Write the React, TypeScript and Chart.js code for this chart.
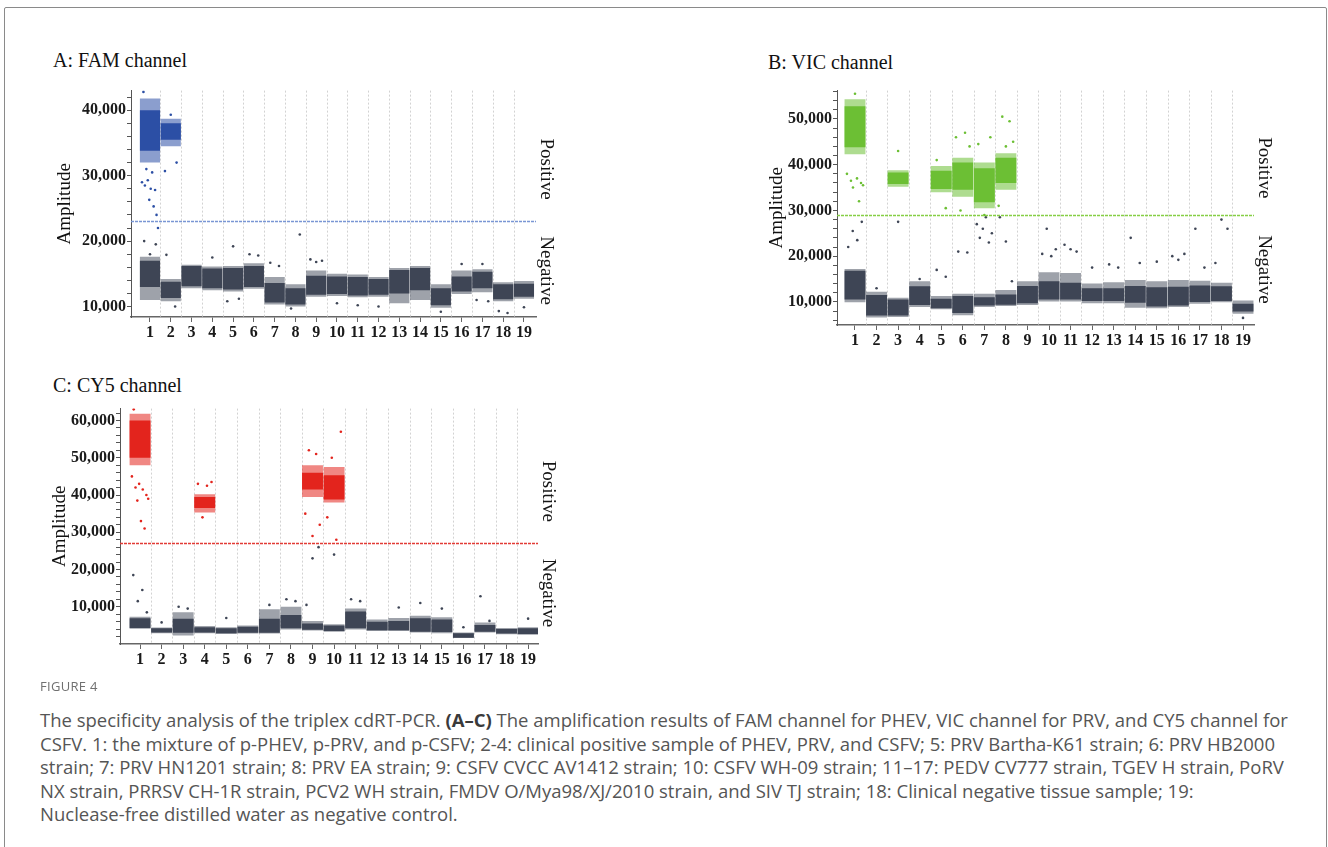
import React, { useEffect, useRef } from "react";
import { Chart, registerables } from "chart.js";

Chart.register(...registerables);

type Range = [number, number] | null;
const N = null;

// ---------- shared categories ----------
const wells = [1, 2, 3, 4, 5, 6, 7, 8, 9, 10, 11, 12, 13, 14, 15, 16, 17, 18, 19];
const wellLabels = ["1", "2", "3", "4", "5", "6", "7", "8", "9", "10", "11", "12", "13", "14", "15", "16", "17", "18", "19"];

// ---------- A: FAM channel ----------
const famThreshold = 23000;
const famMajorTicks = [10000, 20000, 30000, 40000];
const famPosCore: Range[] = [[33800, 40000], [35500, 38000], N, N, N, N, N, N, N, N, N, N, N, N, N, N, N, N, N];
const famPosHalo: Range[] = [[32000, 41800], [34500, 38700], N, N, N, N, N, N, N, N, N, N, N, N, N, N, N, N, N];
const famPosOut: number[][] = [
  [29000, 42800, 28500, 31000, 29300, 26300, 28000, 30500, 25300, 27800, 24000, 22000],
  [30700, 39300, 32000], [], [], [], [], [], [], [], [], [], [], [], [], [], [], [], [], [],
];
const famNegCore: Range[] = [
  [13000, 17000], [11300, 13800], [13100, 16200], [12800, 15800], [12600, 15900], [13000, 16200],
  [10600, 13600], [10300, 12800], [11800, 14700], [11900, 14600], [11700, 14500], [11800, 14200],
  [12000, 15600], [12500, 15900], [10200, 12800], [12300, 14600], [12800, 15300], [11100, 13400], [11500, 13500],
];
const famNegHalo: Range[] = [
  [11000, 17600], [10800, 14200], [12800, 16400], [12500, 16100], [12300, 16200], [12700, 16600],
  [10300, 14500], [10000, 13400], [11500, 15500], [11600, 15000], [11400, 14900], [11500, 14500],
  [10500, 15900], [11000, 16200], [9800, 13400], [11900, 15500], [12200, 15700], [10800, 13700], [11200, 13900],
];
const famNegOut: number[][] = [
  [20000, 18000, 19500], [17900, 10000], [], [17500], [10800, 19200, 11200], [18000, 17800],
  [16700, 16200], [9700, 21000], [17200, 16800, 17000], [10500], [10200], [10000],
  [], [], [9200], [16500], [11000, 16500, 10800], [9300, 9000], [9900],
];

// ---------- B: VIC channel ----------
const vicThreshold = 29000;
const vicMajorTicks = [10000, 20000, 30000, 40000, 50000];
const vicPosCore: Range[] = [[43800, 52800], N, [35800, 38300], N, [34700, 38700], [34500, 40500], [31800, 39200], [36000, 41500], N, N, N, N, N, N, N, N, N, N, N];
const vicPosHalo: Range[] = [[42300, 54300], N, [35200, 38800], N, [34000, 39700], [33000, 41500], [30500, 40500], [34500, 42500], N, N, N, N, N, N, N, N, N, N, N];
const vicPosOut: number[][] = [
  [38000, 56500, 36500, 35000, 55500, 37000, 32000, 36000, 35500], [], [43000], [], [41000, 30500],
  [46000, 30000, 47000, 44000], [44500, 29000, 46000], [31000, 50500, 44000, 49500, 45000],
  [], [], [], [], [], [], [], [], [], [], [],
];
const vicNegCore: Range[] = [
  [10500, 16800], [7000, 11500], [7000, 10500], [9300, 13400], [8600, 10700], [7600, 11300],
  [9200, 11000], [9400, 11600], [9700, 13500], [10500, 14500], [10500, 14200], [10200, 13000],
  [10200, 13000], [9800, 13500], [9000, 13200], [9200, 13300], [10000, 13600], [10200, 13400], [7900, 9600],
];
const vicNegHalo: Range[] = [
  [9900, 17200], [6600, 12200], [6700, 10900], [8900, 14500], [8400, 11300], [7100, 11800],
  [8900, 11800], [9100, 12600], [9300, 14500], [10100, 16500], [10100, 16300], [9700, 14000],
  [9700, 14300], [8700, 14800], [8600, 14500], [8900, 14800], [9600, 14600], [9900, 14200], [7400, 10300],
];
const vicNegOut: number[][] = [
  [22000, 25500, 23500, 27500], [13000], [27500], [15000], [17000, 15500], [21000, 20800],
  [27000, 24000, 26000, 28500, 23000, 25000], [28500, 23200, 14500], [], [20500, 26000, 20000, 21500],
  [22500, 21500, 21000], [17500], [18200, 17500], [24000, 18500], [18800], [20000, 19200, 20500],
  [26000, 17500], [18500, 28000, 26000], [6500],
];

// ---------- C: CY5 channel ----------
const cy5Threshold = 27000;
const cy5MajorTicks = [10000, 20000, 30000, 40000, 50000, 60000];
const cy5PosCore: Range[] = [[50000, 60000], N, N, [36500, 39500], N, N, N, N, [41500, 46000], [38800, 45300], N, N, N, N, N, N, N, N, N];
const cy5PosHalo: Range[] = [[48000, 61800], N, N, [35300, 40200], N, N, N, N, [39500, 48000], [38000, 47500], N, N, N, N, N, N, N, N, N];
const cy5PosOut: number[][] = [
  [45000, 63000, 42000, 38500, 43000, 33000, 41500, 31000, 40000, 39000], [], [],
  [43000, 34000, 42500, 43500], [], [], [], [], [35000, 52000, 29000, 51000, 32000],
  [34000, 50000, 28000, 57000], [], [], [], [], [], [], [], [], [],
];
const cy5NegCore: Range[] = [
  [4300, 6900], [3100, 4200], [3000, 6800], [3100, 4500], [2900, 4200], [3000, 4600],
  [3000, 6800], [4200, 7800], [3800, 5500], [3500, 5000], [4200, 8700], [3700, 6000],
  [3700, 6200], [3300, 6900], [3200, 6600], [1700, 2900], [3300, 5100], [2800, 4000], [2700, 4200],
];
const cy5NegHalo: Range[] = [
  [4100, 7300], [2900, 4400], [2300, 8500], [2900, 4800], [2700, 4500], [2800, 5000],
  [2800, 9300], [3900, 10000], [3600, 6200], [3300, 5300], [3900, 9500], [3500, 6600],
  [3500, 7000], [3100, 7600], [2900, 7200], [1600, 3100], [3100, 5800], [2600, 4300], [2500, 4500],
];
const cy5NegOut: number[][] = [
  [18500, 11500, 14500, 8500], [5800], [10000, 9500], [], [7000], [], [10500], [12000, 11500],
  [10500, 23000, 26000], [24000], [12000, 11500], [], [9800], [11000], [9500], [4500],
  [12800, 6200], [], [6800],
];

// ---------- styling ----------
const SERIF = '"Liberation Serif", "Times New Roman", serif';
const NEG = "#3e4555";
const NEG_HALO = "rgba(62,69,85,0.5)";

type Panel = {
  title: string;
  titleLeft: number;
  titleTop: number;
  left: number;
  top: number;
  width: number;
  height: number;
  yAxisWidth: number;
  xAxisHeight: number;
  padTop: number;
  padRight: number;
  ampPad: number;
  xMin: number;
  xMax: number;
  yMin: number;
  yMax: number;
  minorStep: number;
  majorTicks: number[];
  threshold: number;
  posColor: string;
  posHaloColor: string;
  thresholdColor: string;
  posCore: Range[];
  posHalo: Range[];
  posOut: number[][];
  negCore: Range[];
  negHalo: Range[];
  negOut: number[][];
  posLabelY: number;
  negLabelY: number;
};

const panels: Panel[] = [
  {
    title: "A: FAM channel", titleLeft: 53, titleTop: 48,
    left: 40, top: 80, width: 535, height: 270, yAxisWidth: 91, xAxisHeight: 33, padTop: 8, padRight: 39, ampPad: 13.6,
    xMin: 0.086, xMax: 19.58, yMin: 8400, yMax: 43000, minorStep: 2000, majorTicks: famMajorTicks,
    threshold: famThreshold, posColor: "#2c4fa5", posHaloColor: "rgba(44,79,165,0.55)", thresholdColor: "#7a96d4",
    posCore: famPosCore, posHalo: famPosHalo, posOut: famPosOut, negCore: famNegCore, negHalo: famNegHalo, negOut: famNegOut,
    posLabelY: 31000, negLabelY: 15500,
  },
  {
    title: "B: VIC channel", titleLeft: 768, titleTop: 50,
    left: 745, top: 80, width: 540, height: 280, yAxisWidth: 92, xAxisHeight: 35, padTop: 9, padRight: 31, ampPad: 20.6,
    xMin: 0.165, xMax: 19.51, yMin: 4950, yMax: 56200, minorStep: 2000, majorTicks: vicMajorTicks,
    threshold: vicThreshold, posColor: "#6cbf34", posHaloColor: "rgba(108,191,52,0.55)", thresholdColor: "#86cf45",
    posCore: vicPosCore, posHalo: vicPosHalo, posOut: vicPosOut, negCore: vicNegCore, negHalo: vicNegHalo, negOut: vicNegOut,
    posLabelY: 39300, negLabelY: 17100,
  },
  {
    title: "C: CY5 channel", titleLeft: 53, titleTop: 373,
    left: 30, top: 398, width: 540, height: 280, yAxisWidth: 90, xAxisHeight: 34, padTop: 10, padRight: 32, ampPad: 18.6,
    xMin: 0.07, xMax: 19.46, yMin: 0, yMax: 63200, minorStep: 2000, majorTicks: cy5MajorTicks,
    threshold: cy5Threshold, posColor: "#e3241d", posHaloColor: "rgba(227,36,29,0.55)", thresholdColor: "#e23b36",
    posCore: cy5PosCore, posHalo: cy5PosHalo, posOut: cy5PosOut, negCore: cy5NegCore, negHalo: cy5NegHalo, negOut: cy5NegOut,
    posLabelY: 41000, negLabelY: 13700,
  },
];

function rangeData(r: Range[]) {
  const out: { x: number; y: [number, number] }[] = [];
  r.forEach((v, i) => {
    if (v) out.push({ x: wells[i], y: v });
  });
  return out;
}

function outlierData(o: number[][]) {
  const pts: { x: number; y: number }[] = [];
  o.forEach((vals, i) => {
    const n = vals.length;
    vals.forEach((v, k) => {
      pts.push({ x: wells[i] - 0.42 + (0.84 * (k + 0.5)) / n, y: v });
    });
  });
  return pts;
}

function makeChart(canvas: HTMLCanvasElement, p: Panel) {
  const yTicks: number[] = [];
  for (let v = Math.ceil(p.yMin / p.minorStep) * p.minorStep; v < p.yMax; v += p.minorStep) {
    if (v > p.yMin) yTicks.push(v);
  }
  const decor = {
    id: "decor",
    beforeDatasetsDraw(chart: any) {
      const { ctx, chartArea } = chart;
      const xs = chart.scales.x;
      ctx.save();
      ctx.strokeStyle = "#d2d2d2";
      ctx.lineWidth = 1;
      ctx.setLineDash([2, 2]);
      for (let i = 0; i < wells.length - 1; i++) {
        const px = Math.round(xs.getPixelForValue(wells[i] + 0.5)) + 0.5;
        ctx.beginPath();
        ctx.moveTo(px, chartArea.top);
        ctx.lineTo(px, chartArea.bottom);
        ctx.stroke();
      }
      ctx.restore();
    },
    afterDatasetsDraw(chart: any) {
      const { ctx, chartArea } = chart;
      const ys = chart.scales.y;
      ctx.save();
      const ty = Math.round(ys.getPixelForValue(p.threshold)) + 0.5;
      ctx.strokeStyle = p.thresholdColor;
      ctx.lineWidth = 1.5;
      ctx.setLineDash([3, 1]);
      ctx.beginPath();
      ctx.moveTo(chartArea.left, ty);
      ctx.lineTo(chartArea.right, ty);
      ctx.stroke();
      ctx.setLineDash([]);
      ctx.fillStyle = "#151515";
      ctx.font = `19px ${SERIF}`;
      ctx.textAlign = "center";
      ctx.textBaseline = "middle";
      const lx = chartArea.right + 10;
      [["Positive", p.posLabelY], ["Negative", p.negLabelY]].forEach(([t, v]) => {
        ctx.save();
        ctx.translate(lx, ys.getPixelForValue(v as number));
        ctx.rotate(Math.PI / 2);
        ctx.fillText(t as string, 0, 0);
        ctx.restore();
      });
      ctx.restore();
    },
  };

  const barCommon = { type: "bar" as const, grouped: false, categoryPercentage: 1, borderWidth: 0 };
  const pointCommon = { type: "scatter" as const, pointRadius: 1.3, pointBorderWidth: 0, pointHoverRadius: 0 };

  return new Chart(canvas, {
    type: "bar",
    data: {
      datasets: [
        { ...barCommon, label: "positive", data: rangeData(p.posCore), backgroundColor: p.posColor, barPercentage: 0.97, order: 1 },
        { ...barCommon, label: "negative", data: rangeData(p.negCore), backgroundColor: NEG, barPercentage: 0.97, order: 1 },
        { ...barCommon, label: "positive spread", data: rangeData(p.posHalo), backgroundColor: p.posHaloColor, barPercentage: 0.97, order: 3 },
        { ...barCommon, label: "negative spread", data: rangeData(p.negHalo), backgroundColor: NEG_HALO, barPercentage: 0.97, order: 3 },
        { ...pointCommon, label: "positive droplets", data: outlierData(p.posOut), backgroundColor: p.posColor, order: 2 },
        { ...pointCommon, label: "negative droplets", data: outlierData(p.negOut), backgroundColor: NEG, order: 2 },
      ] as any,
    },
    options: {
      responsive: false,
      maintainAspectRatio: false,
      animation: false,
      events: [],
      layout: { padding: { top: p.padTop, right: p.padRight, left: 0, bottom: 0 } },
      plugins: { legend: { display: false }, tooltip: { enabled: false }, title: { display: false } },
      scales: {
        x: {
          type: "linear",
          position: "bottom",
          min: p.xMin,
          max: p.xMax,
          offset: false,
          bounds: "data",
          afterBuildTicks: (s: any) => {
            s.ticks = wells.map((v) => ({ value: v }));
          },
          afterFit: (s: any) => {
            s.height = p.xAxisHeight;
          },
          ticks: {
            autoSkip: false,
            maxRotation: 0,
            minRotation: 0,
            padding: 1,
            color: "#1a1a1a",
            font: { family: SERIF, size: 16, weight: "bold" },
            callback: (v: any) => {
              const i = wells.indexOf(Number(v));
              return i >= 0 ? wellLabels[i] : "";
            },
          },
          grid: { display: true, drawOnChartArea: false, drawTicks: true, tickLength: 5, color: "#666", offset: false },
          border: { display: true, color: "#666", width: 1.5 },
        },
        y: {
          type: "linear",
          min: p.yMin,
          max: p.yMax,
          bounds: "data",
          afterBuildTicks: (s: any) => {
            s.ticks = yTicks.map((v) => ({ value: v }));
          },
          afterFit: (s: any) => {
            s.width = p.yAxisWidth;
          },
          ticks: {
            autoSkip: false,
            padding: 1,
            color: "#1a1a1a",
            font: { family: SERIF, size: 16, weight: "bold" },
            callback: (v: any) => (p.majorTicks.includes(Number(v)) ? Number(v).toLocaleString("en-US") : ""),
          },
          grid: { display: true, drawOnChartArea: false, drawTicks: true, tickLength: 4, color: "#555" },
          border: { display: true, color: "#555", width: 1 },
          title: {
            display: true,
            text: "Amplitude",
            color: "#111",
            font: { family: SERIF, size: 19, weight: "normal" },
            padding: { top: p.ampPad, bottom: 0 },
          },
        },
      } as any,
    },
    plugins: [decor],
  });
}

function PanelChart({ p }: { p: Panel }) {
  const ref = useRef<HTMLCanvasElement | null>(null);
  useEffect(() => {
    if (!ref.current) return;
    const chart = makeChart(ref.current, p);
    return () => chart.destroy();
  }, [p]);
  return (
    <>
      <div
        style={{
          position: "absolute",
          left: p.titleLeft,
          top: p.titleTop,
          fontFamily: SERIF,
          fontSize: 20,
          lineHeight: "24px",
          color: "#111",
          whiteSpace: "nowrap",
        }}
      >
        {p.title}
      </div>
      <canvas
        ref={ref}
        width={p.width}
        height={p.height}
        style={{ position: "absolute", left: p.left, top: p.top, width: p.width, height: p.height }}
      />
    </>
  );
}

const captionLines: React.ReactNode[] = [
  <>
    The specificity analysis of the triplex cdRT-PCR. <b style={{ color: "#3a3a3a", fontWeight: 700 }}>(A–C)</b> The amplification results of FAM channel for PHEV, VIC channel for PRV, and CY5 channel for
  </>,
  "CSFV. 1: the mixture of p-PHEV, p-PRV, and p-CSFV; 2-4: clinical positive sample of PHEV, PRV, and CSFV; 5: PRV Bartha-K61 strain; 6: PRV HB2000",
  "strain; 7: PRV HN1201 strain; 8: PRV EA strain; 9: CSFV CVCC AV1412 strain; 10: CSFV WH-09 strain; 11–17: PEDV CV777 strain, TGEV H strain, PoRV",
  "NX strain, PRRSV CH-1R strain, PCV2 WH strain, FMDV O/Mya98/XJ/2010 strain, and SIV TJ strain; 18: Clinical negative tissue sample; 19:",
  "Nuclease-free distilled water as negative control.",
];

export default function App() {
  return (
    <div style={{ position: "absolute", left: 0, top: 0, width: 1328, height: 847, overflow: "hidden", background: "#fff" }}>
      <div
        style={{
          position: "absolute",
          left: 4,
          top: 7,
          width: 1323,
          height: 900,
          boxSizing: "border-box",
          border: "1.5px solid #8a8a8a",
          borderRadius: 2,
        }}
      />
      {panels.map((p) => (
        <PanelChart key={p.title} p={p} />
      ))}
      <div
        style={{
          position: "absolute",
          left: 40,
          top: 678,
          fontFamily: '"Open Sans", "Noto Sans", sans-serif',
          fontSize: 13,
          lineHeight: "16px",
          letterSpacing: 0.3,
          color: "#707070",
        }}
      >
        FIGURE 4
      </div>
      <div
        style={{
          position: "absolute",
          left: 40,
          top: 708,
          fontFamily: '"Open Sans", "Noto Sans", sans-serif',
          fontSize: 18.5,
          fontWeight: 400,
          lineHeight: "23.5px",
          color: "#555",
          whiteSpace: "nowrap",
        }}
      >
        {captionLines.map((l, i) => (
          <div key={i}>{l}</div>
        ))}
      </div>
    </div>
  );
}
